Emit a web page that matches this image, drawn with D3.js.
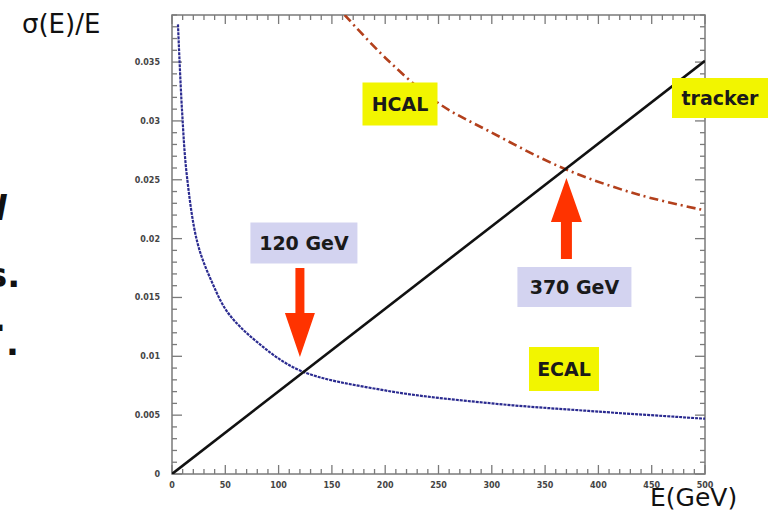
<!DOCTYPE html>
<html>
<head>
<meta charset="utf-8">
<script src="https://cdn.jsdelivr.net/npm/d3@7"></script>
<style>
  body { margin: 0; background: #fff; }
  svg { display: block; }
</style>
</head>
<body>
<div id="chart"></div>
<script>
// values: energy (GeV) and sigma(E)/E
const ecalE = [5.6, 9.4, 14, 24, 37.5, 52.5, 80, 120, 200, 300, 400, 500]
const ecalRes = [0.0382, 0.0309, 0.0253, 0.0196, 0.0163, 0.0137, 0.0112, 0.0088, 0.0071, 0.006, 0.0053, 0.0047]

const hcalE = [162, 202, 250, 298, 369, 439, 500]
const hcalRes = [0.039, 0.0352, 0.0315, 0.0291, 0.0259, 0.0237, 0.0224]

const trackerE = [0, 500]
const trackerRes = [0, 0.0351]

const xTicks = [0, 50, 100, 150, 200, 250, 300, 350, 400, 450, 500]
const yTicks = [0, 0.005, 0.01, 0.015, 0.02, 0.025, 0.03, 0.035]

const crossings = [
  { e: 120, label: '120 GeV', dir: 'down' },
  { e: 370, label: '370 GeV', dir: 'up' }
]

const margin = { top: 15, left: 172, right: 64, bottom: 37 }
const width = 769 - margin.left - margin.right
const height = 511 - margin.top - margin.bottom

const svgRoot = d3
  .select('#chart')
  .append('svg')
  .attr('width', 769)
  .attr('height', 511)

const svg = svgRoot
  .append('g')
  .attr('transform', 'translate(' + margin.left + ',' + margin.top + ')')

const xPositionScale = d3.scaleLinear().domain([0, 500]).range([0, width])
const yPositionScale = d3.scaleLinear().domain([0, 0.039]).range([height, 0])

svg
  .append('clipPath')
  .attr('id', 'plot-clip')
  .append('rect')
  .attr('width', width)
  .attr('height', height)

const line = d3
  .line()
  .x(d => xPositionScale(d[0]))
  .y(d => yPositionScale(d[1]))
  .curve(d3.curveCatmullRom)

const tickColor = '#7a7a7a'

// ticks on all four sides, ROOT style
const xMinor = d3.range(0, 501, 10)
const yMinor = d3.range(0, 0.0391, 0.001)

const isMajorX = v => v % 50 === 0
const isMajorY = v => Math.abs(v / 0.005 - Math.round(v / 0.005)) < 1e-6

svg
  .selectAll('.xtick-b')
  .data(xMinor)
  .enter()
  .append('line')
  .attr('x1', d => xPositionScale(d))
  .attr('x2', d => xPositionScale(d))
  .attr('y1', height)
  .attr('y2', d => height - (isMajorX(d) ? 9 : 5))
  .attr('stroke', tickColor)
  .attr('stroke-width', 1.3)

svg
  .selectAll('.xtick-t')
  .data(xMinor)
  .enter()
  .append('line')
  .attr('x1', d => xPositionScale(d))
  .attr('x2', d => xPositionScale(d))
  .attr('y1', 0)
  .attr('y2', d => (isMajorX(d) ? 9 : 5))
  .attr('stroke', tickColor)
  .attr('stroke-width', 1.3)

svg
  .selectAll('.ytick-l')
  .data(yMinor)
  .enter()
  .append('line')
  .attr('y1', d => yPositionScale(d))
  .attr('y2', d => yPositionScale(d))
  .attr('x1', 0)
  .attr('x2', d => (isMajorY(d) ? 10 : 5))
  .attr('stroke', tickColor)
  .attr('stroke-width', 1.3)

svg
  .selectAll('.ytick-r')
  .data(yMinor)
  .enter()
  .append('line')
  .attr('y1', d => yPositionScale(d))
  .attr('y2', d => yPositionScale(d))
  .attr('x1', width)
  .attr('x2', d => width - (isMajorY(d) ? 10 : 5))
  .attr('stroke', tickColor)
  .attr('stroke-width', 1.3)

svg
  .append('rect')
  .attr('width', width)
  .attr('height', height)
  .attr('fill', 'none')
  .attr('stroke', tickColor)
  .attr('stroke-width', 1.5)

// tick labels
svg
  .selectAll('.xlabel')
  .data(xTicks)
  .enter()
  .append('text')
  .attr('x', d => xPositionScale(d))
  .attr('y', height + 14)
  .attr('text-anchor', 'middle')
  .attr('font-family', 'DejaVu Sans')
  .attr('font-size', 8)
  .attr('font-weight', 'bold')
  .attr('fill', '#444')
  .text(d => d)

svg
  .selectAll('.ylabel')
  .data(yTicks)
  .enter()
  .append('text')
  .attr('x', -12)
  .attr('y', d => yPositionScale(d))
  .attr('dy', 3)
  .attr('text-anchor', 'end')
  .attr('font-family', 'DejaVu Sans')
  .attr('font-size', 8)
  .attr('font-weight', 'bold')
  .attr('fill', '#444')
  .text(d => d)

// curves
const curves = svg.append('g').attr('clip-path', 'url(#plot-clip)')

curves
  .append('path')
  .attr('d', line(d3.zip(ecalE, ecalRes)))
  .attr('fill', 'none')
  .attr('stroke', '#2b2b90')
  .attr('stroke-width', 2.2)
  .attr('stroke-dasharray', '3,1')

curves
  .append('path')
  .attr('d', line(d3.zip(hcalE, hcalRes)))
  .attr('fill', 'none')
  .attr('stroke', '#b3401c')
  .attr('stroke-width', 2.6)
  .attr('stroke-dasharray', '9,4,2,4')

curves
  .append('path')
  .attr('d', line(d3.zip(trackerE, trackerRes)))
  .attr('fill', 'none')
  .attr('stroke', '#111')
  .attr('stroke-width', 2.6)

// labels with yellow boxes
const labelFont = "'DejaVu Sans', sans-serif"

function boxLabel(text, cx, cy, w, h, fill) {
  svg
    .append('rect')
    .attr('x', cx - w / 2)
    .attr('y', cy - h / 2)
    .attr('width', w)
    .attr('height', h)
    .attr('fill', fill)
  svg
    .append('text')
    .attr('x', cx)
    .attr('y', cy)
    .attr('dy', 7)
    .attr('text-anchor', 'middle')
    .attr('font-family', labelFont)
    .attr('font-size', 19)
    .attr('font-weight', 'bold')
    .attr('fill', '#1a1a1a')
    .text(text)
}

boxLabel('HCAL', 400 - margin.left, 104 - margin.top, 75, 43, '#f2f500')
boxLabel('tracker', 720 - margin.left, 98 - margin.top, 96, 40, '#f2f500')
boxLabel('ECAL', 564 - margin.left, 369 - margin.top, 70, 44, '#f2f500')

// crossing arrows
crossings.forEach(c => {
  const x = xPositionScale(c.e)
  const arrow = d3.path()
  if (c.dir === 'down') {
    boxLabel(c.label, x + 4, 243 - margin.top, 107, 41, '#d3d3f0')
    const tip = 357 - margin.top
    arrow.moveTo(x - 4.5, 268 - margin.top)
    arrow.lineTo(x + 4.5, 268 - margin.top)
    arrow.lineTo(x + 4.5, tip - 44)
    arrow.lineTo(x + 15, tip - 44)
    arrow.lineTo(x, tip)
    arrow.lineTo(x - 15, tip - 44)
    arrow.lineTo(x - 4.5, tip - 44)
    arrow.closePath()
  } else {
    boxLabel(c.label, x + 8, 287 - margin.top, 114, 40, '#d3d3f0')
    const tip = 178 - margin.top
    arrow.moveTo(x - 5.5, 259 - margin.top)
    arrow.lineTo(x + 5.5, 259 - margin.top)
    arrow.lineTo(x + 5.5, tip + 44)
    arrow.lineTo(x + 15.5, tip + 44)
    arrow.lineTo(x, tip)
    arrow.lineTo(x - 15.5, tip + 44)
    arrow.lineTo(x - 5.5, tip + 44)
    arrow.closePath()
  }
  svg
    .append('path')
    .attr('d', arrow.toString())
    .attr('fill', '#ff3300')
})

// axis titles
svgRoot
  .append('text')
  .attr('x', 22)
  .attr('y', 33)
  .attr('font-family', labelFont)
  .attr('font-size', 26)
  .attr('fill', '#111')
  .text('σ(E)/E')

svgRoot
  .append('text')
  .attr('x', 650)
  .attr('y', 506)
  .attr('font-family', labelFont)
  .attr('font-size', 25)
  .attr('fill', '#111')
  .text('E(GeV)')

// cut-off slide text at the left edge
const fragments = [
  { t: 'l', x: -5, y: 220, style: 'italic' },
  { t: 's.', x: -13, y: 287, style: 'normal' },
  { t: '.', x: -7, y: 331, style: 'normal' },
  { t: '.', x: 6, y: 355, style: 'normal' }
]
svgRoot
  .selectAll('.fragment')
  .data(fragments)
  .enter()
  .append('text')
  .attr('x', d => d.x)
  .attr('y', d => d.y)
  .attr('font-family', labelFont)
  .attr('font-size', 34)
  .attr('font-weight', 'bold')
  .attr('font-style', d => d.style)
  .attr('fill', '#111')
  .text(d => d.t)
</script>
</body>
</html>
